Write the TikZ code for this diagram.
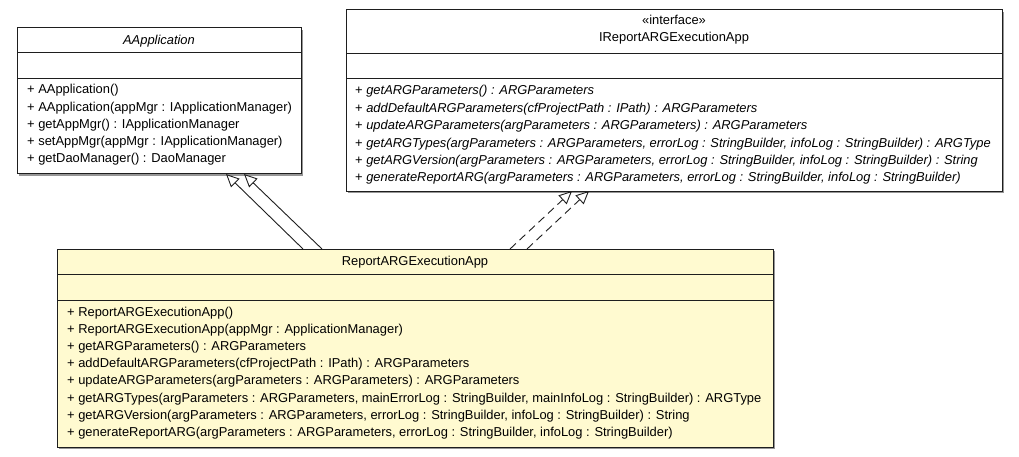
\documentclass[tikz,border=0pt]{standalone}
\usepackage{fontspec}
\setmainfont{Liberation Sans}
\usetikzlibrary{arrows.meta,calc}
\definecolor{umlyellow}{RGB}{255,250,208}
\definecolor{umlline}{RGB}{30,30,30}
\definecolor{umlshadow}{RGB}{150,150,150}
\tikzset{
  umlbox/.style={draw=umlline, line width=1pt, anchor=north west, inner sep=0pt, outer sep=0pt},
  sepline/.style={draw=umlline, line width=1pt},
  member/.style={anchor=base west, inner sep=0pt, font=\fontsize{12.9}{15}\selectfont},
  title/.style={anchor=base, inner sep=0pt, font=\fontsize{12.9}{15}\selectfont},
  gen/.style={draw=umlline, line width=0.9pt, -{Triangle[open,length=13pt,width=12pt,fill=white]}},
  real/.style={gen, dash pattern=on 8pt off 5pt},
}
\begin{document}
\begin{tikzpicture}[x=1pt,y=-1pt]
\useasboundingbox (0,0) rectangle (1019,457);
\fill[white] (0,0) rectangle (1019,457);

% ---------- AApplication ----------
\fill[umlshadow] (19,30) rectangle (303,176);
\node[umlbox, fill=white, minimum width=284pt, minimum height=146pt] (aapp) at (17,28) {};
\draw[sepline] (17,53) -- (301,53);
\draw[sepline] (17,79) -- (301,79);
\node[title, font=\fontsize{12.9}{15}\selectfont\itshape] (aappname) at (159,45) {AApplication};
\foreach \t [count=\i from 0] in {
  {+ AApplication()},
  {+ AApplication(appMgr : IApplicationManager)},
  {+ getAppMgr() : IApplicationManager},
  {+ setAppMgr(appMgr : IApplicationManager)},
  {+ getDaoManager() : DaoManager}}
  \node[member] (am\i) at (27,94+17.25*\i) {\t};

% ---------- IReportARGExecutionApp ----------
\fill[umlshadow] (348,12) rectangle (1004,193);
\node[umlbox, fill=white, minimum width=656pt, minimum height=181pt] (iface) at (346,10) {};
\draw[sepline] (346,54) -- (1002,54);
\draw[sepline] (346,79) -- (1002,79);
\node[title] (ifacest) at (674,25) {«interface»};
\node[title] (ifacename) at (674,42) {IReportARGExecutionApp};
\foreach \t [count=\i from 0] in {
  {+ \textit{getARGParameters() : ARGParameters}},
  {+ \textit{addDefaultARGParameters(cfProjectPath : IPath) : ARGParameters}},
  {+ \textit{updateARGParameters(argParameters : ARGParameters) : ARGParameters}},
  {+ \textit{getARGTypes(argParameters : ARGParameters, errorLog : StringBuilder, infoLog : StringBuilder) : ARGType}},
  {+ \textit{getARGVersion(argParameters : ARGParameters, errorLog : StringBuilder, infoLog : StringBuilder) : String}},
  {+ \textit{generateReportARG(argParameters : ARGParameters, errorLog : StringBuilder, infoLog : StringBuilder)}}}
  \node[member] (im\i) at (355,95+17.35*\i) {\t};

% ---------- ReportARGExecutionApp ----------
\fill[umlshadow] (59,251) rectangle (775,449);
\node[umlbox, fill=umlyellow, minimum width=716pt, minimum height=198pt] (rep) at (57,249) {};
\draw[sepline] (57,274) -- (773,274);
\draw[sepline] (57,300) -- (773,300);
\node[title] (repname) at (415,265) {ReportARGExecutionApp};
\foreach \t [count=\i from 0] in {
  {+ ReportARGExecutionApp()},
  {+ ReportARGExecutionApp(appMgr : ApplicationManager)},
  {+ getARGParameters() : ARGParameters},
  {+ addDefaultARGParameters(cfProjectPath : IPath) : ARGParameters},
  {+ updateARGParameters(argParameters : ARGParameters) : ARGParameters},
  {+ getARGTypes(argParameters : ARGParameters, mainErrorLog : StringBuilder, mainInfoLog : StringBuilder) : ARGType},
  {+ getARGVersion(argParameters : ARGParameters, errorLog : StringBuilder, infoLog : StringBuilder) : String},
  {+ generateReportARG(argParameters : ARGParameters, errorLog : StringBuilder, infoLog : StringBuilder)}}
  \node[member] (rm\i) at (67,316+17.24*\i) {\t};

% ---------- connectors ----------
\draw[gen] ($(rep.north west)+(246,0)$) -- ($(aapp.south west)+(209,0)$);
\draw[gen] ($(rep.north west)+(265,0)$) -- ($(aapp.south west)+(227,0)$);
\draw[real] ($(rep.north west)+(453,0)$) -- ($(iface.south west)+(226,0)$);
\draw[real] ($(rep.north west)+(470,0)$) -- ($(iface.south west)+(243,0)$);
\end{tikzpicture}
\end{document}
